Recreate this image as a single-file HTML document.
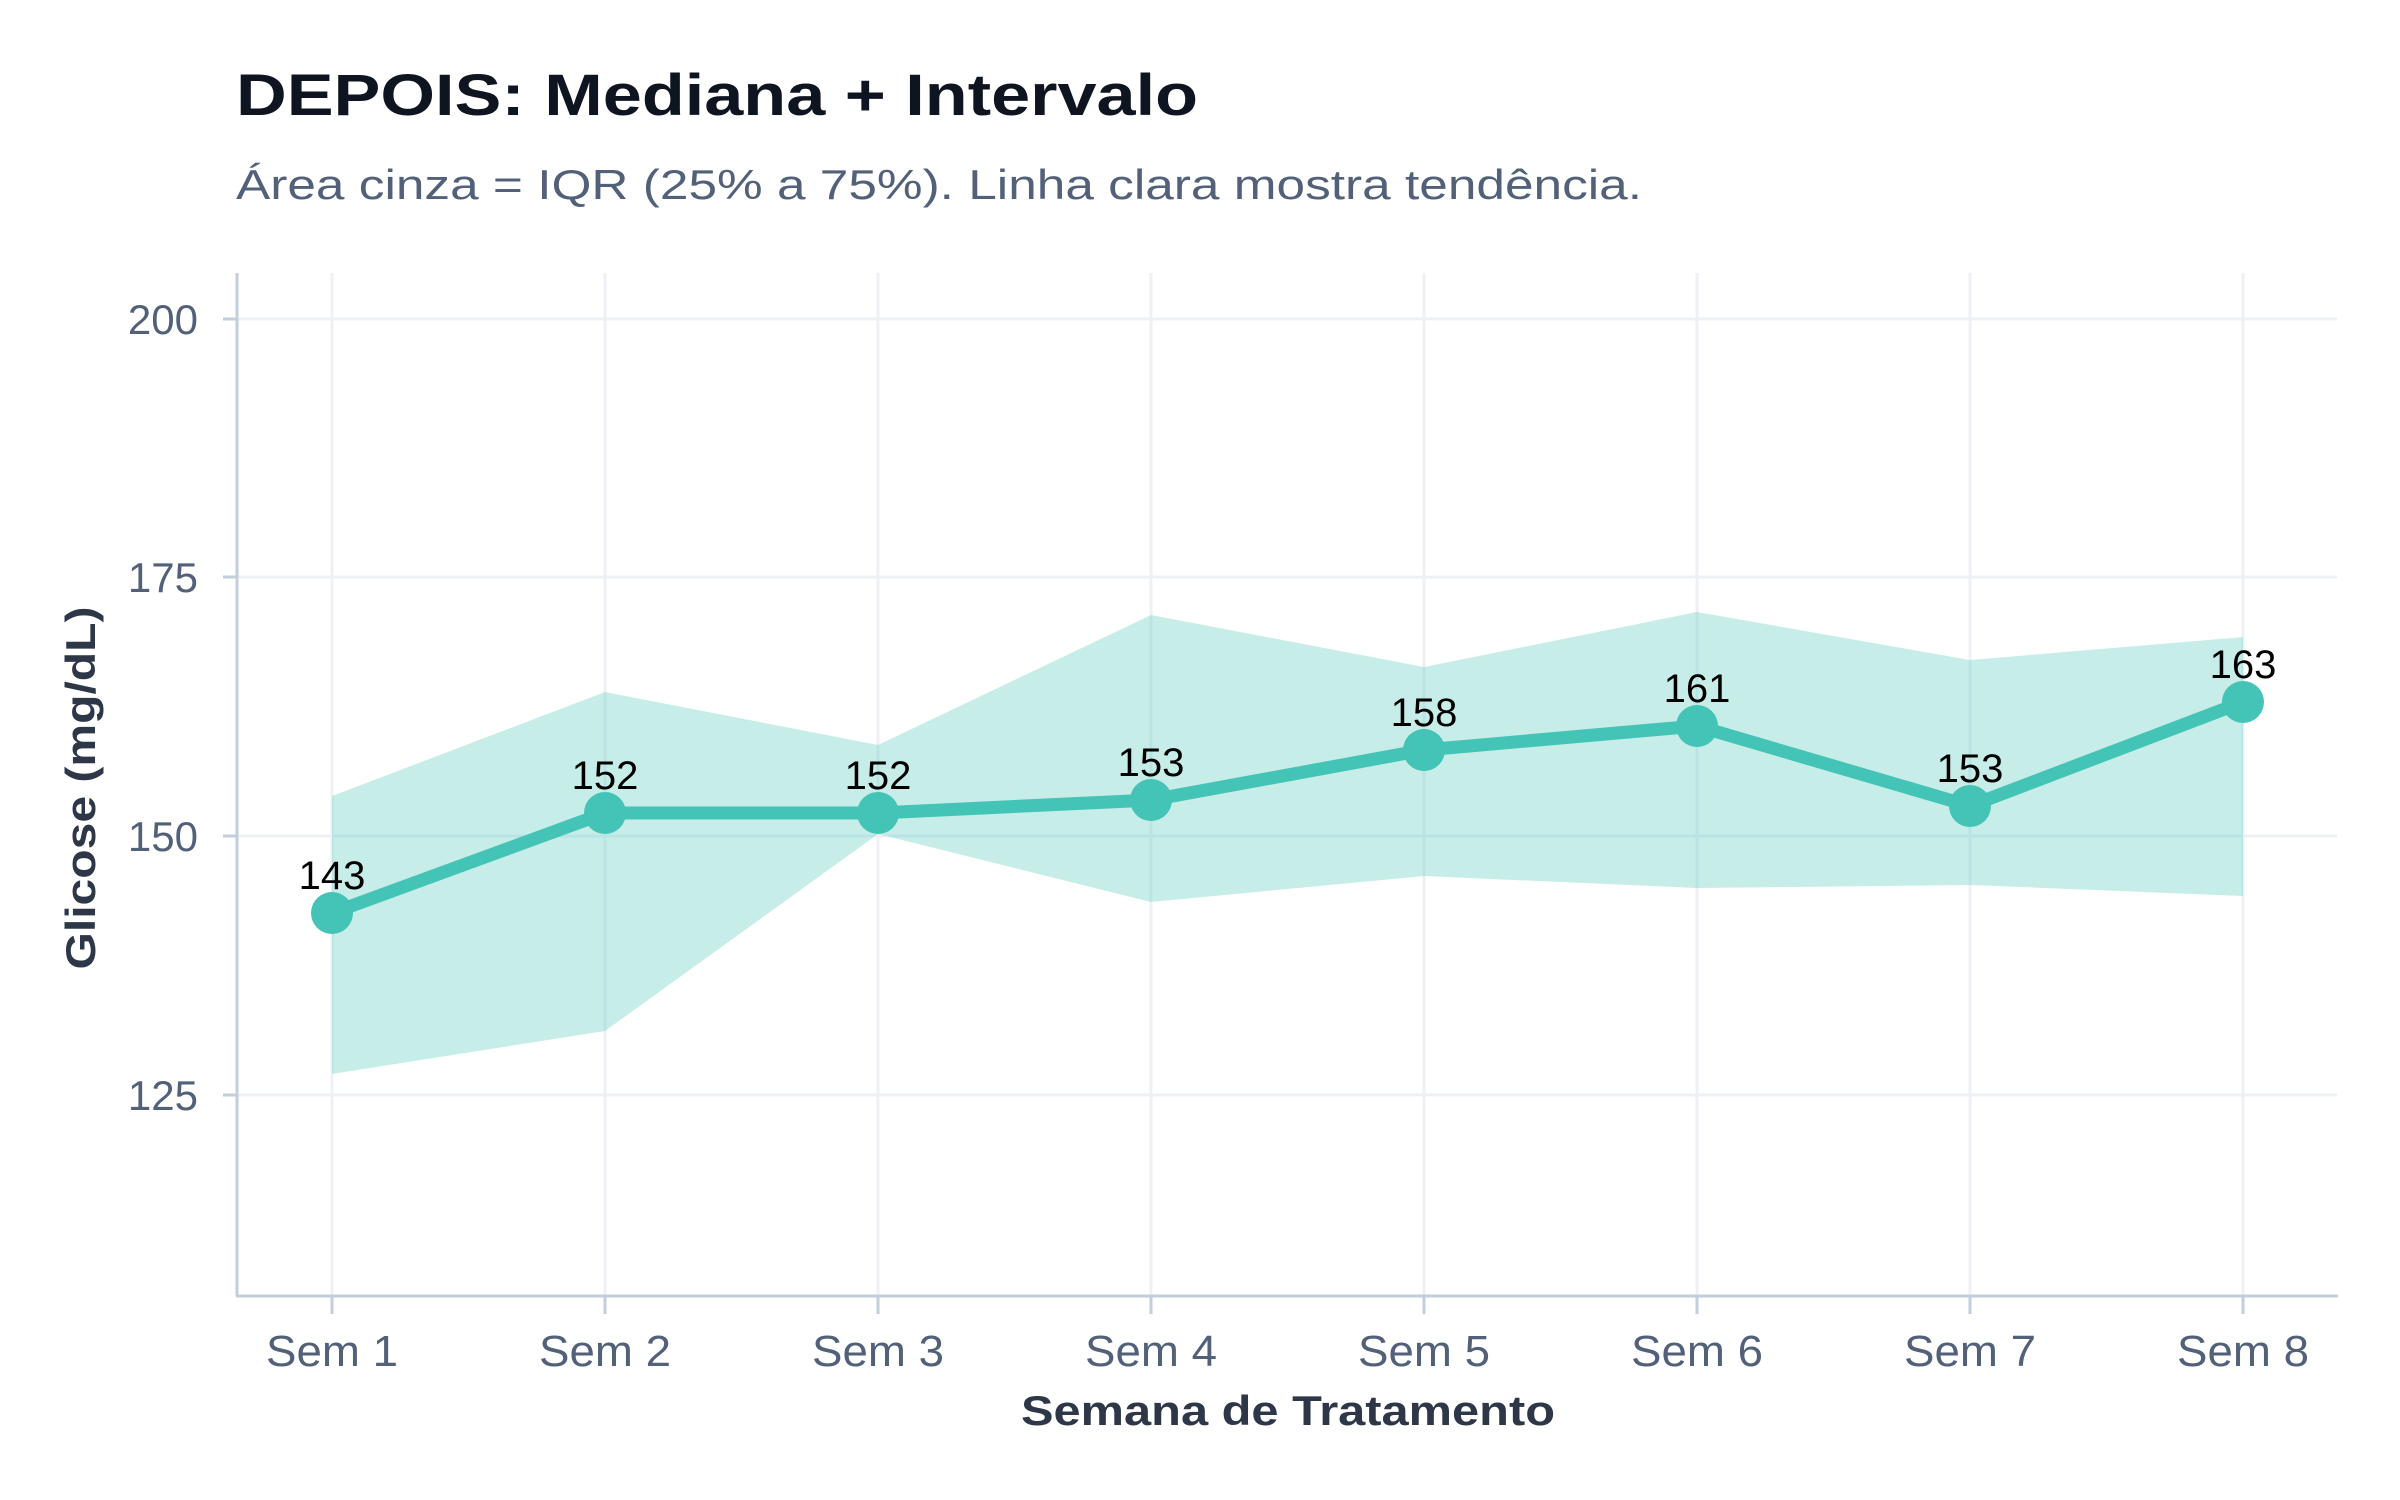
<!DOCTYPE html>
<html><head><meta charset="utf-8"><style>html,body{margin:0;padding:0;background:#fff}svg{display:block}</style></head>
<body>
<svg width="2400" height="1500" viewBox="0 0 2400 1500" xmlns="http://www.w3.org/2000/svg" font-family="Liberation Sans, Arial, sans-serif">
<rect width="2400" height="1500" fill="#fff"/>
<text x="236" y="115" font-size="58" font-weight="bold" fill="#0f1520" textLength="962" lengthAdjust="spacingAndGlyphs">DEPOIS: Mediana + Intervalo</text>
<text x="236" y="199" font-size="42" fill="#526179" textLength="1406" lengthAdjust="spacingAndGlyphs">Área cinza = IQR (25% a 75%). Linha clara mostra tendência.</text>
<g stroke="#edf1f6" stroke-width="3">
<line x1="237" y1="319" x2="2337" y2="319"/><line x1="237" y1="577" x2="2337" y2="577"/><line x1="237" y1="836" x2="2337" y2="836"/><line x1="237" y1="1095" x2="2337" y2="1095"/>
<line x1="332" y1="273" x2="332" y2="1296"/><line x1="605" y1="273" x2="605" y2="1296"/><line x1="878" y1="273" x2="878" y2="1296"/><line x1="1151" y1="273" x2="1151" y2="1296"/><line x1="1424" y1="273" x2="1424" y2="1296"/><line x1="1697" y1="273" x2="1697" y2="1296"/><line x1="1970" y1="273" x2="1970" y2="1296"/><line x1="2243" y1="273" x2="2243" y2="1296"/>
</g>
<polygon fill="#44c4b6" fill-opacity="0.3" points="332,796 605,692 878,745 1151,615 1424,667 1697,612 1970,660 2243,637 2243,896 1970,885 1697,888 1424,876 1151,902 878,834 605,1031 332,1074"/>
<polyline fill="none" stroke="#44c4b6" stroke-width="13" stroke-linejoin="round" points="332,913 605,813 878,813 1151,800 1424,750 1697,726 1970,806 2243,702"/>
<g fill="#44c4b6">
<circle cx="332" cy="913" r="21"/><circle cx="605" cy="813" r="21"/><circle cx="878" cy="813" r="21"/><circle cx="1151" cy="800" r="21"/><circle cx="1424" cy="750" r="21"/><circle cx="1697" cy="726" r="21"/><circle cx="1970" cy="806" r="21"/><circle cx="2243" cy="702" r="21"/>
</g>
<g font-size="40" fill="#000" text-anchor="middle">
<text x="332" y="889">143</text><text x="605" y="789">152</text><text x="878" y="789">152</text><text x="1151" y="776">153</text><text x="1424" y="726">158</text><text x="1697" y="702">161</text><text x="1970" y="782">153</text><text x="2243" y="678">163</text>
</g>
<g stroke="#c2cedb" stroke-width="3">
<line x1="237" y1="273" x2="237" y2="1296"/><line x1="236" y1="1296" x2="2338" y2="1296"/>
<line x1="223" y1="319" x2="237" y2="319"/><line x1="223" y1="577" x2="237" y2="577"/><line x1="223" y1="836" x2="237" y2="836"/><line x1="223" y1="1095" x2="237" y2="1095"/>
<line x1="332" y1="1296" x2="332" y2="1314"/><line x1="605" y1="1296" x2="605" y2="1314"/><line x1="878" y1="1296" x2="878" y2="1314"/><line x1="1151" y1="1296" x2="1151" y2="1314"/><line x1="1424" y1="1296" x2="1424" y2="1314"/><line x1="1697" y1="1296" x2="1697" y2="1314"/><line x1="1970" y1="1296" x2="1970" y2="1314"/><line x1="2243" y1="1296" x2="2243" y2="1314"/>
</g>
<g font-size="42" fill="#526179" text-anchor="end">
<text x="198" y="334">200</text><text x="198" y="592">175</text><text x="198" y="851">150</text><text x="198" y="1110">125</text>
</g>
<g font-size="44" fill="#526179" text-anchor="middle">
<text x="332" y="1366" textLength="132" lengthAdjust="spacingAndGlyphs">Sem 1</text><text x="605" y="1366" textLength="132" lengthAdjust="spacingAndGlyphs">Sem 2</text><text x="878" y="1366" textLength="132" lengthAdjust="spacingAndGlyphs">Sem 3</text><text x="1151" y="1366" textLength="132" lengthAdjust="spacingAndGlyphs">Sem 4</text><text x="1424" y="1366" textLength="132" lengthAdjust="spacingAndGlyphs">Sem 5</text><text x="1697" y="1366" textLength="132" lengthAdjust="spacingAndGlyphs">Sem 6</text><text x="1970" y="1366" textLength="132" lengthAdjust="spacingAndGlyphs">Sem 7</text><text x="2243" y="1366" textLength="132" lengthAdjust="spacingAndGlyphs">Sem 8</text>
</g>
<text x="1288" y="1425" font-size="42" font-weight="bold" fill="#2d3748" text-anchor="middle" textLength="534" lengthAdjust="spacingAndGlyphs">Semana de Tratamento</text>
<text transform="translate(95,788) rotate(-90)" font-size="42" font-weight="bold" fill="#2d3748" text-anchor="middle" textLength="363" lengthAdjust="spacingAndGlyphs">Glicose (mg/dL)</text>
</svg>
</body></html>
